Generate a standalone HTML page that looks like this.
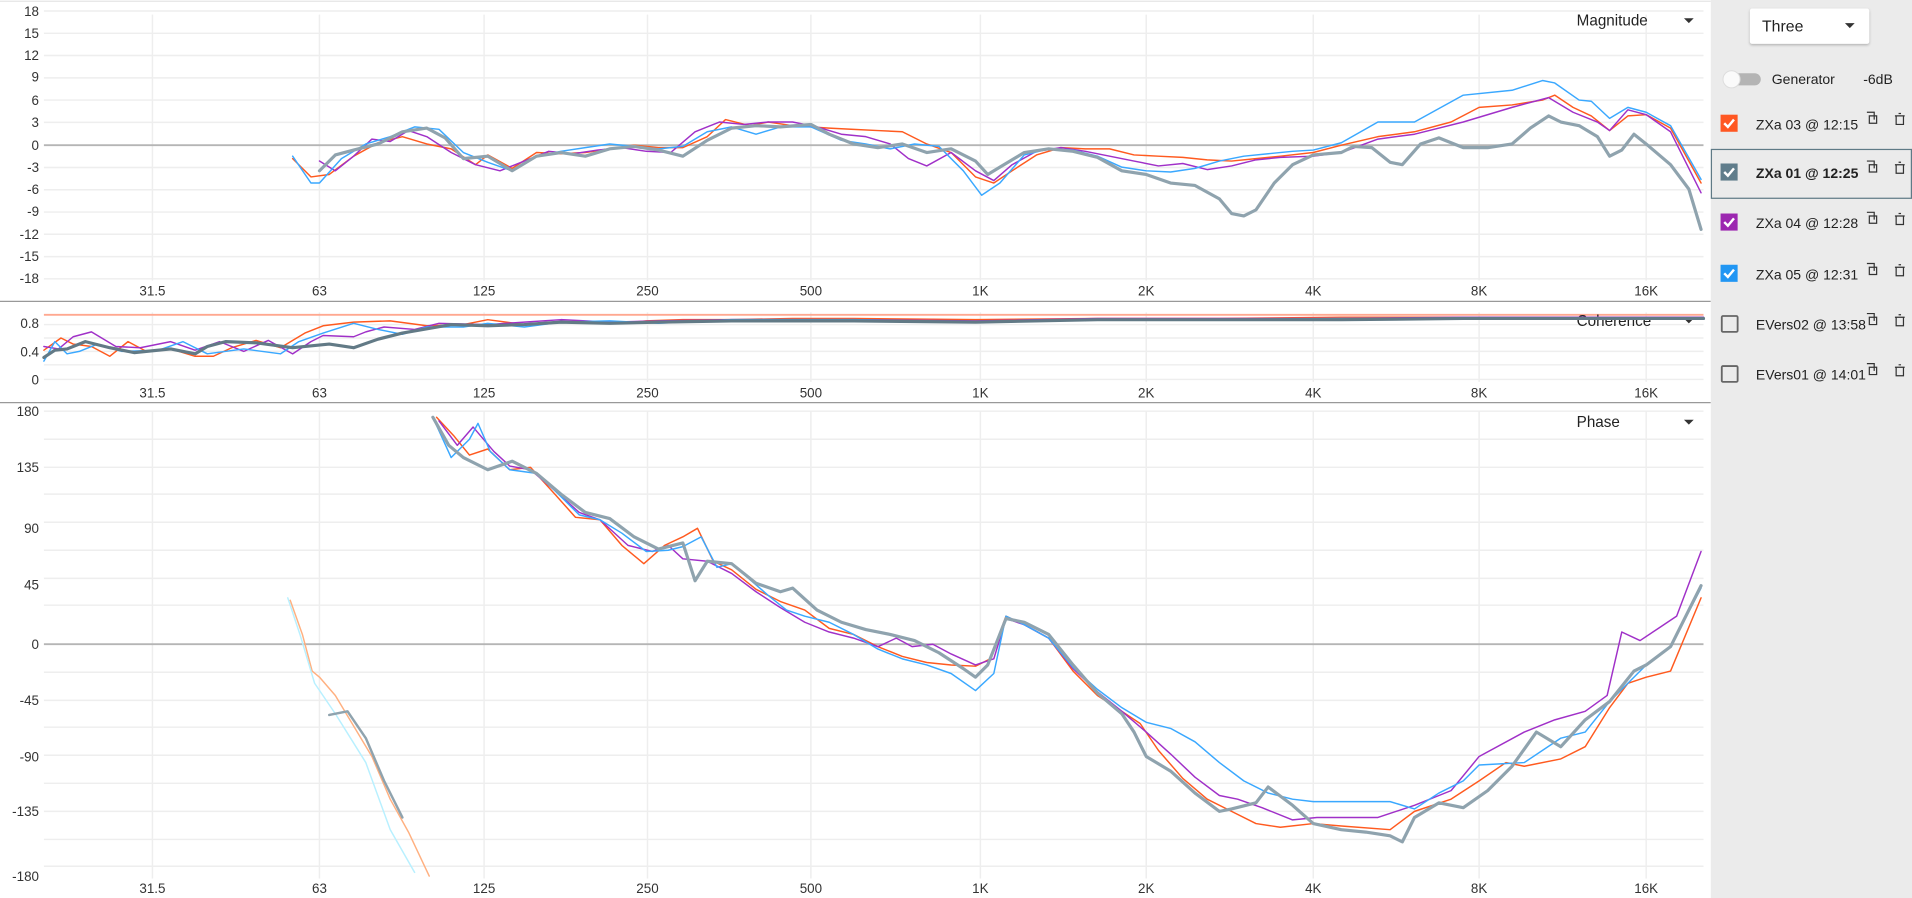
<!DOCTYPE html>
<html><head><meta charset="utf-8"><style>
html,body{margin:0;padding:0;background:#fff;overflow:hidden}
svg{display:block}
text{font-family:"Liberation Sans",sans-serif;}
</style></head><body>
<svg width="1912" height="898" viewBox="0 0 1568 736" preserveAspectRatio="none" xmlns="http://www.w3.org/2000/svg">
<rect width="1568" height="736" fill="#fff"/>
<line x1="0" y1="1" x2="1403" y2="1" stroke="#e4e4e4"/>
<line x1="0" y1="247" x2="1403" y2="247" stroke="#999"/>
<line x1="0" y1="330" x2="1403" y2="330" stroke="#999"/>
<g stroke="#eeeeee" stroke-width="1.2" fill="none">
<path d="M36 9H1397M36 27.3H1397M36 45.5H1397M36 63.8H1397M36 82H1397M36 100.3H1397M36 137.3H1397M36 155.5H1397M36 173.8H1397M36 192H1397M36 210.3H1397M36 228.5H1397"/>
<path d="M36 266H1397M36 277H1397M36 288H1397M36 299H1397M36 311H1397"/>
<path d="M36 337H1397M36 360H1397M36 383H1397M36 405H1397M36 428H1397M36 451H1397M36 474H1397M36 496H1397M36 551H1397M36 574H1397M36 596H1397M36 619H1397M36 642H1397M36 665H1397M36 688H1397M36 710H1397"/>
<path d="M125 12V230M262 12V230M397 12V230M531 12V230M665 12V230M804 12V230M940 12V230M1077 12V230M1213 12V230M1350 12V230"/>
<path d="M125 256V313M262 256V313M397 256V313M531 256V313M665 256V313M804 256V313M940 256V313M1077 256V313M1213 256V313M1350 256V313"/>
<path d="M125 337V720M262 337V720M397 337V720M531 337V720M665 337V720M804 337V720M940 337V720M1077 337V720M1213 337V720M1350 337V720"/>
</g>
<line x1="36" y1="119" x2="1397" y2="119" stroke="#b5b5b5" stroke-width="1.5"/>
<line x1="36" y1="528" x2="1397" y2="528" stroke="#b5b5b5" stroke-width="1.5"/>
<line x1="36" y1="258" x2="1397" y2="258" stroke="#ffa890" stroke-width="1.5"/>
<g font-size="11" fill="#333" text-anchor="end">
<text x="32" y="13">18</text><text x="32" y="31">15</text><text x="32" y="49">12</text><text x="32" y="67">9</text><text x="32" y="86">6</text><text x="32" y="104">3</text><text x="32" y="123">0</text><text x="32" y="141">-3</text><text x="32" y="159">-6</text><text x="32" y="177">-9</text><text x="32" y="196">-12</text><text x="32" y="214">-15</text><text x="32" y="232">-18</text>
<text x="32" y="269">0.8</text><text x="32" y="292">0.4</text><text x="32" y="315">0</text>
<text x="32" y="341">180</text><text x="32" y="387">135</text><text x="32" y="437">90</text><text x="32" y="483">45</text><text x="32" y="532">0</text><text x="32" y="578">-45</text><text x="32" y="624">-90</text><text x="32" y="669">-135</text><text x="32" y="722">-180</text>
</g>
<g font-size="11" fill="#333" text-anchor="middle">
<text x="125" y="242">31.5</text><text x="262" y="242">63</text><text x="397" y="242">125</text><text x="531" y="242">250</text><text x="665" y="242">500</text><text x="804" y="242">1K</text><text x="940" y="242">2K</text><text x="1077" y="242">4K</text><text x="1213" y="242">8K</text><text x="1350" y="242">16K</text>
<text x="125" y="326">31.5</text><text x="262" y="326">63</text><text x="397" y="326">125</text><text x="531" y="326">250</text><text x="665" y="326">500</text><text x="804" y="326">1K</text><text x="940" y="326">2K</text><text x="1077" y="326">4K</text><text x="1213" y="326">8K</text><text x="1350" y="326">16K</text>
<text x="125" y="732">31.5</text><text x="262" y="732">63</text><text x="397" y="732">125</text><text x="531" y="732">250</text><text x="665" y="732">500</text><text x="804" y="732">1K</text><text x="940" y="732">2K</text><text x="1077" y="732">4K</text><text x="1213" y="732">8K</text><text x="1350" y="732">16K</text>
</g>
<g font-size="12.5" fill="#222">
<text x="1293" y="21">Magnitude</text><text x="1293" y="267">Coherence</text><text x="1293" y="350">Phase</text>
</g>
<g fill="#333"><path d="M1381 15h8l-4 4z"/><path d="M1381 261h8l-4 4z"/><path d="M1381 344h8l-4 4z"/></g>

<g fill="none" stroke-linejoin="round" stroke-linecap="round">
<polyline stroke="#ff5a1f" stroke-width="1.2" points="240,130 255,145 270,143 290,128 310,117 330,112 350,118 370,122 390,135 400,127 420,138 440,125 460,126 480,125 500,122 520,119 540,121 560,121 580,112 595,98 615,103 630,100 650,103 680,105 700,106 720,107 740,108 760,118 780,125 800,145 815,150 830,140 850,127 870,121 890,122 910,122 930,127 950,128 970,129 990,131 1010,132 1030,130 1050,128 1077,125 1100,119 1130,112 1160,108 1190,100 1213,88 1240,86 1265,82 1275,78 1290,88 1305,95 1320,107 1335,95 1350,94 1370,105 1395,150"/>
<polyline stroke="#a030c8" stroke-width="1.2" points="262,132 275,140 290,128 305,114 320,116 335,107 350,112 370,125 390,135 410,140 430,132 450,124 470,126 490,123 510,121 530,124 550,125 570,108 590,100 610,102 630,100 650,100 670,104 690,110 710,112 730,118 745,130 760,136 780,125 800,140 815,148 830,135 850,124 870,121 890,124 910,128 930,132 950,136 970,134 990,139 1010,136 1030,131 1050,129 1077,128 1100,125 1130,114 1160,110 1200,100 1240,88 1270,80 1290,92 1310,100 1320,107 1335,90 1350,94 1370,108 1395,158"/>
<polyline stroke="#3aa8ff" stroke-width="1.2" points="240,128 255,150 262,150 280,130 300,118 320,112 340,104 360,106 380,125 400,133 420,140 440,128 460,124 480,121 500,118 520,120 540,122 560,120 580,108 600,104 620,110 640,104 665,104 690,115 710,118 730,122 750,118 770,120 790,140 805,160 820,150 840,127 860,122 880,123 900,128 920,137 940,140 960,141 980,138 1000,132 1020,128 1040,126 1060,124 1077,123 1100,117 1130,100 1160,100 1200,78 1240,74 1265,66 1275,68 1295,82 1305,83 1320,97 1335,88 1350,92 1370,103 1395,147"/>
<polyline stroke="#8fa3ae" stroke-width="2.6" points="262,140 275,127 290,123 310,118 330,108 350,105 365,113 380,130 400,128 420,140 440,128 460,125 480,128 500,122 520,120 540,123 560,128 580,115 600,105 620,103 640,104 665,102 680,110 700,118 720,121 740,118 760,125 780,122 800,132 810,143 820,137 840,125 860,122 880,124 900,129 920,140 940,143 960,150 980,152 1000,163 1010,175 1020,177 1030,172 1045,150 1060,135 1077,127 1100,125 1110,120 1125,121 1140,133 1150,135 1165,118 1180,113 1200,121 1220,121 1240,118 1255,105 1270,95 1280,100 1295,103 1310,112 1320,128 1330,123 1340,110 1350,118 1370,135 1385,155 1395,188"/>
<polyline stroke="#ff5a1f" stroke-width="1.2" points="36,287 50,277 60,282 75,284 90,292 105,280 120,288 140,286 160,292 175,292 190,285 210,279 230,285 250,273 265,267 290,264 320,263 350,267 380,266 400,262 430,266 460,264 490,264 510,265 530,263 560,262 600,262 650,261 700,261 800,262 900,261 1000,261 1100,260 1200,260 1300,260 1397,260"/>
<polyline stroke="#a030c8" stroke-width="1.2" points="36,284 48,286 60,276 75,272 95,284 115,285 140,280 160,287 180,280 200,288 220,279 240,290 255,280 265,275 290,276 300,272 315,268 340,270 360,265 400,266 430,264 460,262 500,264 540,263 600,262 700,262 800,263 900,261 1000,261 1100,261 1200,260 1397,260"/>
<polyline stroke="#3aa8ff" stroke-width="1.2" points="36,296 45,280 55,290 65,288 80,282 100,288 130,287 150,280 170,290 200,286 230,290 245,280 265,273 290,265 310,270 330,274 350,268 380,268 400,265 430,268 460,264 500,263 540,265 600,262 700,262 800,264 900,262 1000,262 1100,261 1200,261 1397,261"/>
<polyline stroke="#627a86" stroke-width="2.6" points="36,293 45,287 55,286 70,280 90,285 110,289 140,286 160,290 170,284 185,280 210,281 240,285 270,282 290,285 310,278 330,273 370,266 400,267 430,266 460,264 500,265 540,264 600,263 700,263 800,264 900,262 1000,262 1100,262 1200,261 1397,261"/>
<polyline stroke="#ffb080" stroke-width="1.2" points="238,492 248,520 256,550 262,555 275,570 290,595 305,620 320,655 335,682 352,718"/>
<polyline stroke="#b8f0ff" stroke-width="1.2" points="236,490 246,520 258,560 275,585 300,625 320,680 340,715"/>
<polyline stroke="#8fa3ae" stroke-width="2" points="270,586 285,583 300,605 315,640 330,670"/>
<polyline stroke="#ff5a1f" stroke-width="1.2" points="358,342 372,357 385,373 400,368 418,385 435,383 455,405 472,424 492,426 510,447 528,462 545,447 560,440 572,433 585,460 600,467 620,483 640,493 660,500 680,515 700,520 720,530 740,538 760,543 780,545 800,546 812,540 825,505 840,512 860,523 880,550 900,570 920,583 935,593 950,615 970,638 990,655 1010,665 1030,675 1050,678 1077,675 1100,677 1140,680 1160,665 1190,655 1213,640 1235,625 1250,628 1280,622 1300,612 1320,580 1335,560 1350,555 1370,550 1395,490"/>
<polyline stroke="#a030c8" stroke-width="1.2" points="360,345 375,365 388,350 405,370 418,382 435,385 455,402 475,420 492,426 515,447 535,452 548,447 560,458 580,460 600,470 620,485 640,498 660,510 680,518 700,523 720,530 735,523 748,530 765,528 780,536 800,545 815,540 825,507 840,512 860,523 880,548 900,567 920,583 940,600 960,618 980,637 1000,652 1015,655 1035,662 1060,672 1080,670 1100,670 1130,670 1160,660 1190,648 1213,620 1250,600 1275,590 1300,583 1318,570 1330,518 1345,525 1360,515 1375,505 1395,452"/>
<polyline stroke="#3aa8ff" stroke-width="1.2" points="355,342 370,375 385,360 392,347 402,370 418,385 440,388 458,405 475,422 492,426 510,437 530,452 548,451 560,448 575,440 588,465 600,462 615,475 630,488 645,500 660,505 680,510 700,520 720,532 740,540 760,545 780,552 800,566 815,552 825,505 840,512 860,523 880,547 900,565 920,580 940,592 960,597 980,608 1000,625 1020,640 1040,650 1060,655 1077,657 1100,657 1140,657 1160,663 1180,650 1200,640 1213,627 1250,625 1280,605 1300,600 1320,575 1335,560 1350,545 1370,530 1395,482"/>
<polyline stroke="#8fa3ae" stroke-width="2.6" points="355,342 368,365 380,375 400,385 420,378 440,388 460,405 480,420 500,425 520,440 540,450 560,445 570,476 580,460 600,462 620,478 640,485 650,482 670,500 690,510 710,516 730,520 750,525 770,535 790,548 800,555 810,545 825,507 840,510 860,520 880,545 900,568 920,585 930,600 940,620 960,632 980,650 1000,665 1010,663 1030,658 1040,645 1060,660 1077,675 1100,680 1120,682 1140,685 1150,690 1160,670 1180,658 1200,662 1220,648 1240,628 1260,600 1280,612 1300,590 1320,575 1340,550 1350,545 1370,530 1395,480"/>
</g>

<rect x="1403" y="0" width="165" height="736" fill="#ebebeb"/>
<rect x="1435" y="7" width="98" height="29" fill="#fff" rx="2" style="filter:drop-shadow(0 1px 1px rgba(0,0,0,.25))"/>
<text x="1445" y="26" font-size="13" fill="#222">Three</text>
<path d="M1513 19h8l-4 4z" fill="#333"/>
<rect x="1414" y="60" width="30" height="10" rx="5" fill="#b4b4b4"/>
<circle cx="1420" cy="65" r="7" fill="#fafafa" stroke="#ddd" stroke-width=".8"/>
<text x="1453" y="69" font-size="11.5" fill="#222">Generator</text>
<text x="1528" y="69" font-size="11.5" fill="#222">-6dB</text>
<rect x="1403.5" y="122.5" width="164" height="40" fill="none" stroke="#5f7a86"/>
<g font-size="11.5" fill="#222">
<rect x="1411" y="94" width="14" height="14" fill="#ff5722"/><path d="M1414 101l3 3 5-6" stroke="#fff" stroke-width="2" fill="none"/>
<text x="1440" y="106">ZXa 03 @ 12:15</text>
<rect x="1411" y="134" width="14" height="14" fill="#607d8b"/><path d="M1414 141l3 3 5-6" stroke="#fff" stroke-width="2" fill="none"/>
<text x="1440" y="146" font-weight="bold">ZXa 01 @ 12:25</text>
<rect x="1411" y="175" width="14" height="14" fill="#9c27b0"/><path d="M1414 182l3 3 5-6" stroke="#fff" stroke-width="2" fill="none"/>
<text x="1440" y="187">ZXa 04 @ 12:28</text>
<rect x="1411" y="217" width="14" height="14" fill="#2196f3"/><path d="M1414 224l3 3 5-6" stroke="#fff" stroke-width="2" fill="none"/>
<text x="1440" y="229">ZXa 05 @ 12:31</text>
<rect x="1412" y="259" width="13" height="13" fill="none" stroke="#666" stroke-width="1.5" rx="1"/>
<text x="1440" y="270">EVers02 @ 13:58</text>
<rect x="1412" y="300" width="13" height="13" fill="none" stroke="#666" stroke-width="1.5" rx="1"/>
<text x="1440" y="311">EVers01 @ 14:01</text>
</g>
<g fill="none" stroke="#333" stroke-width="1">
<path d="M1531 92h6v6M1533 95h6v6h-6z"/><path d="M1531 132h6v6M1533 135h6v6h-6z"/><path d="M1531 174h6v6M1533 177h6v6h-6z"/><path d="M1531 216h6v6M1533 219h6v6h-6z"/><path d="M1531 257h6v6M1533 260h6v6h-6z"/><path d="M1531 298h6v6M1533 301h6v6h-6z"/>
<path d="M1554 95h8M1555 95v7h6v-7M1557 93h2"/><path d="M1554 135h8M1555 135v7h6v-7M1557 133h2"/><path d="M1554 177h8M1555 177v7h6v-7M1557 175h2"/><path d="M1554 219h8M1555 219v7h6v-7M1557 217h2"/><path d="M1554 260h8M1555 260v7h6v-7M1557 258h2"/><path d="M1554 301h8M1555 301v7h6v-7M1557 299h2"/>
</g>
</svg>
</body></html>
